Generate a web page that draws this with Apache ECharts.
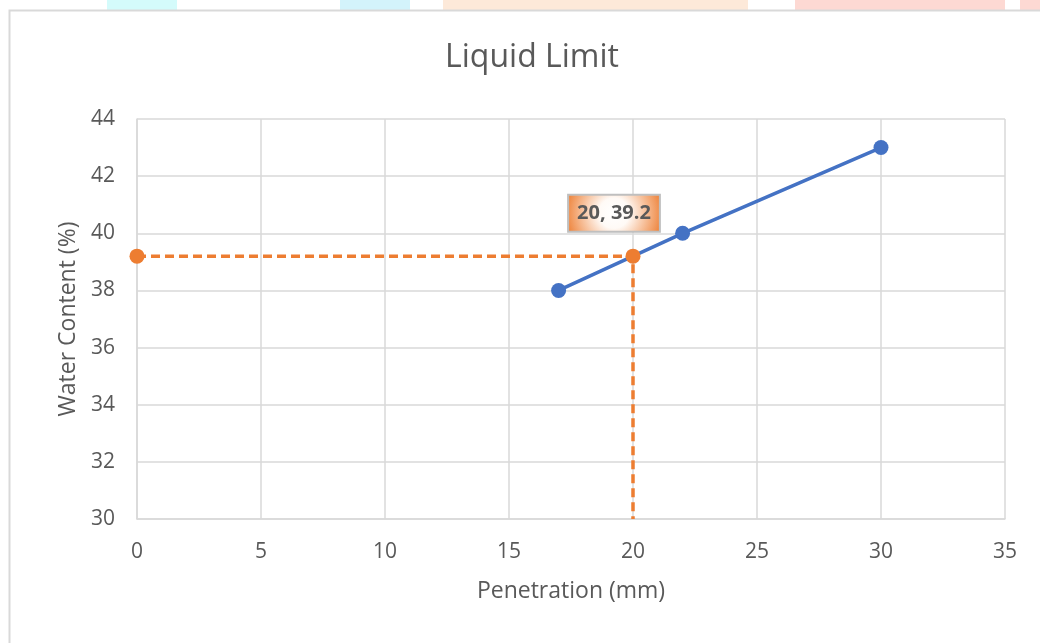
<!DOCTYPE html>
<html>
<head>
<meta charset="utf-8">
<script src="https://cdn.jsdelivr.net/npm/echarts@6/dist/echarts.min.js"></script>
<style>
  html, body { margin: 0; padding: 0; background: #fff; }
  #chart { width: 1040px; height: 643px; }
</style>
</head>
<body>
<div id="chart"></div>
<script>
// Cone penetration test results
const penetration = [17, 22, 30];
const waterContent = [38, 40, 43];

// Liquid limit read at 20 mm penetration
const llPenetration = 20;
const llWaterContent = 39.2;

// Axis ranges
const xTicks = { min: 0, max: 35, interval: 5 };
const yTicks = { min: 30, max: 44, interval: 2 };

const font = 'Open Sans, Liberation Sans, sans-serif';
const textColor = '#595959';
const gridColor = '#d9d9d9';

const chart = echarts.init(document.getElementById('chart'));

chart.setOption({
  animation: false,
  backgroundColor: '#ffffff',
  graphic: [
    // faint coloured band along the top edge
    { type: 'rect', shape: { x: 107, y: 0, width: 70, height: 10 }, style: { fill: '#d4fbfb' }, silent: true },
    { type: 'rect', shape: { x: 340, y: 0, width: 70, height: 10 }, style: { fill: '#d3f3fb' }, silent: true },
    { type: 'rect', shape: { x: 443, y: 0, width: 305, height: 10 }, style: { fill: '#fde9d9' }, silent: true },
    { type: 'rect', shape: { x: 795, y: 0, width: 210, height: 10 }, style: { fill: '#fdd9d3' }, silent: true },
    { type: 'rect', shape: { x: 1020, y: 0, width: 20, height: 10 }, style: { fill: '#fdd9d3' }, silent: true },
    // chart frame
    { type: 'rect', shape: { x: 9.5, y: 10.5, width: 1100, height: 700 },
      style: { fill: 'none', stroke: gridColor, lineWidth: 2 }, silent: true }
  ],
  title: {
    text: 'Liquid Limit',
    left: 527,
    top: 37,
    textAlign: 'center',
    textStyle: { fontFamily: font, fontSize: 32, fontWeight: 'normal', color: textColor }
  },
  grid: { left: 137, right: 35, top: 119, bottom: 124 },
  xAxis: {
    type: 'value',
    min: xTicks.min, max: xTicks.max, interval: xTicks.interval,
    name: 'Penetration (mm)',
    nameLocation: 'middle',
    nameGap: 61,
    nameTextStyle: { fontFamily: font, fontSize: 23, color: textColor },
    axisLine: { show: true, lineStyle: { color: gridColor, width: 1.5 } },
    axisTick: { show: false },
    axisLabel: { fontFamily: font, fontSize: 21, color: textColor, margin: 23 },
    splitLine: { show: true, lineStyle: { color: gridColor, width: 1.5 } }
  },
  yAxis: {
    type: 'value',
    min: yTicks.min, max: yTicks.max, interval: yTicks.interval,
    name: 'Water Content (%)',
    nameLocation: 'middle',
    nameGap: 56,
    nameTextStyle: { fontFamily: font, fontSize: 23, color: textColor },
    axisLine: { show: true, lineStyle: { color: gridColor, width: 1.5 } },
    axisTick: { show: false },
    axisLabel: { fontFamily: font, fontSize: 21, color: textColor, margin: 22 },
    splitLine: { show: true, lineStyle: { color: gridColor, width: 1.5 } }
  },
  series: [
    {
      name: 'Test points',
      type: 'line',
      data: penetration.map((x, i) => [x, waterContent[i]]),
      symbol: 'circle',
      symbolSize: 15,
      lineStyle: { color: '#4472C4', width: 3.5 },
      itemStyle: { color: '#4472C4' },
      z: 3
    },
    {
      name: 'Liquid limit',
      type: 'line',
      data: [
        [0, llWaterContent],
        {
          value: [llPenetration, llWaterContent],
          label: {
            show: true,
            formatter: llPenetration + ', ' + llWaterContent,
            position: 'top',
            offset: [-19, -13],
            fontFamily: font,
            fontSize: 20,
            fontWeight: 'bold',
            color: textColor,
            padding: [8, 8, 7, 8],
            borderColor: '#bfbfbf',
            borderWidth: 2,
            backgroundColor: {
              type: 'radial', x: 0.5, y: 0.5, r: 1.3,
              colorStops: [
                { offset: 0, color: '#ffffff' },
                { offset: 0.3, color: '#fffaf6' },
                { offset: 1, color: '#ed7d31' }
              ]
            }
          }
        },
        { value: [llPenetration, yTicks.min], symbol: 'none' }
      ],
      symbol: 'circle',
      symbolSize: 15,
      lineStyle: { color: '#ED7D31', width: 3.5, type: [9, 5] },
      itemStyle: { color: '#ED7D31' },
      z: 4
    }
  ]
});
</script>
</body>
</html>
